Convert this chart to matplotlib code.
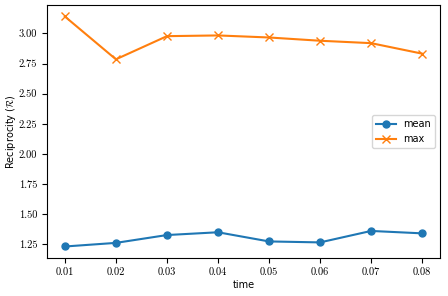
import matplotlib
matplotlib.use("Agg")
import matplotlib.pyplot as plt

plt.rcParams['mathtext.fontset'] = 'cm'
plt.rcParams['font.size'] = 7

time = [0.01, 0.02, 0.03, 0.04, 0.05, 0.06, 0.07, 0.08]
mean_vals = [1.233, 1.263, 1.328, 1.351, 1.275, 1.267, 1.362, 1.342]
max_vals = [3.14, 2.785, 2.977, 2.983, 2.966, 2.939, 2.919, 2.832]

fig = plt.figure(figsize=(4.48, 2.96), dpi=100)
ax = fig.add_axes([47 / 448, 38 / 296, 393 / 448, 253 / 296])

ax.plot(time, mean_vals, marker='o', markersize=5, label='mean')
ax.plot(time, max_vals, marker='x', markersize=6, label='max')

ax.set_xlabel('time', fontsize=7, labelpad=2)
ax.set_ylabel(r'Reciprocity ($\mathcal{R}$)', fontsize=7)
ax.yaxis.set_label_coords(-0.075, 0.5)
ax.set_yticks([1.25, 1.5, 1.75, 2.0, 2.25, 2.5, 2.75, 3.0])
ax.set_yticklabels(['%.2f' % v for v in ax.get_yticks()])
ax.set_xticks(time)
ax.set_xticklabels(['%.2f' % v for v in time])
ax.tick_params(labelsize=7.5)
for lab in ax.get_xticklabels() + ax.get_yticklabels():
    lab.set_fontfamily('cmr10')
ax.legend(loc='center right', fontsize=7)

fig.savefig('out.png', dpi=100)
